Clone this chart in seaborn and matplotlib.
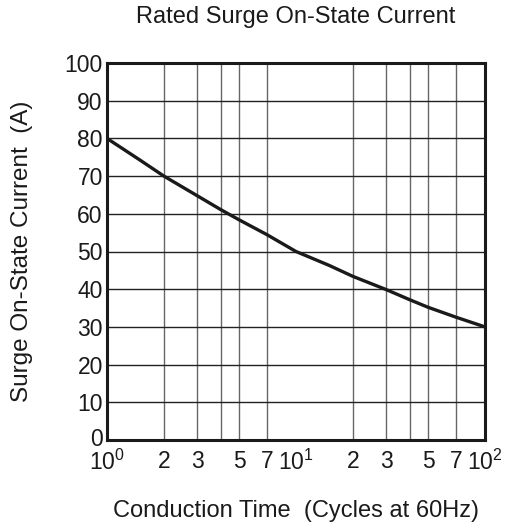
import matplotlib
matplotlib.use("Agg")
import matplotlib.pyplot as plt
import matplotlib.transforms as mtransforms
import seaborn as sns
import pandas as pd
from matplotlib.ticker import FixedLocator, FixedFormatter, NullLocator

# Data
cycles = [1, 1.5, 2, 3, 4, 5, 7, 10, 15, 20, 30, 40, 50, 70, 100]
current = [80, 74.2, 70, 64.8, 61.1, 58.4, 54.5, 50, 46.3, 43.4, 39.9, 37.2, 35.2, 32.6, 30]

x_tick_values = [1, 2, 3, 5, 7, 10, 20, 30, 50, 70, 100]
x_tick_labels = [r"$\mathregular{10^0}$", "2", "3", "5", "7", r"$\mathregular{10^1}$",
                 "2", "3", "5", "7", r"$\mathregular{10^2}$"]
x_grid_values = [2, 3, 4, 5, 7, 20, 30, 40, 50, 70]
y_tick_values = list(range(0, 101, 10))

title = "Rated Surge On-State Current"
xlabel = "Conduction Time  (Cycles at 60Hz)"
ylabel = "Surge On-State Current  (A)"

sns.set_style("white")
plt.rcParams["font.family"] = ["Liberation Sans", "DejaVu Sans"]
plt.rcParams["mathtext.fontset"] = "custom"
plt.rcParams["mathtext.rm"] = "Liberation Sans"

df = pd.DataFrame({"cycles": cycles, "current": current})

fig = plt.figure(figsize=(5.1, 5.25), dpi=100)
ax = fig.add_axes([107 / 510, 1 - 440 / 525, (485 - 107) / 510, (440 - 63) / 525])

ax.set_xscale("log")
ax.set_xlim(1, 100)
ax.set_ylim(0, 100)

for gx in x_grid_values:
    ax.axvline(gx, color="#666666", lw=1.0, zorder=1)
for gy in y_tick_values[1:-1]:
    ax.axhline(gy, color="#222222", lw=1.0, zorder=1)

sns.lineplot(data=df, x="cycles", y="current", color="#1a1a1a", lw=2.4, ax=ax, zorder=3)

ax.xaxis.set_major_locator(FixedLocator(x_tick_values))
ax.xaxis.set_major_formatter(FixedFormatter(x_tick_labels))
ax.xaxis.set_minor_locator(NullLocator())
ax.set_yticks(y_tick_values)

ax.tick_params(axis="both", length=0, labelsize=16.5, colors="#1a1a1a")
ax.tick_params(axis="x", pad=7)
ax.tick_params(axis="y", pad=3)
for s in ax.spines.values():
    s.set_linewidth(2.2)
    s.set_color("#1a1a1a")
    s.set_zorder(4)

# nudge the bottom "0" label up slightly so it does not collide with 10^0
zero_lbl = ax.get_yticklabels()[0]
zero_lbl.set_transform(zero_lbl.get_transform() +
                       mtransforms.ScaledTranslation(0, 2 / 72, fig.dpi_scale_trans))

ax.set_xlabel(xlabel, fontsize=17, color="#1a1a1a", labelpad=18)
ax.set_ylabel(ylabel, fontsize=17.5, color="#1a1a1a", labelpad=23)
ax.set_title(title, fontsize=17, color="#1a1a1a", pad=29)

fig.savefig("out.png", dpi=100)
